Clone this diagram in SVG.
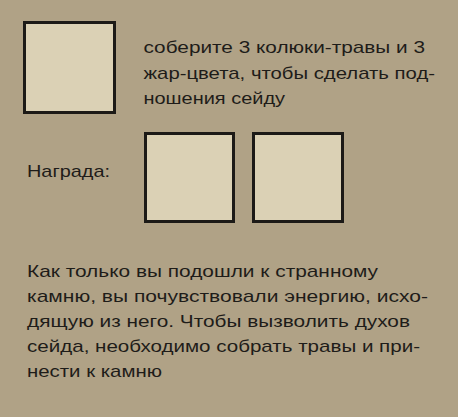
<svg xmlns="http://www.w3.org/2000/svg" width="458" height="417" viewBox="0 0 458 417">
<style>
.slot{fill:#dbd1b5;stroke:#1c1a17;stroke-width:3}
.t{font-family:"Liberation Sans",Arial,sans-serif;font-size:17px;fill:#1e1c19}
</style>
<rect x="0" y="0" width="458" height="417" fill="#b0a286"/>
<g id="quest-item">
<rect class="slot" x="24.5" y="22.5" width="90" height="90"/>
</g>
<g id="quest-text">
<text class="t" x="143.5" y="53" textLength="281.5" lengthAdjust="spacingAndGlyphs">соберите 3 колюки-травы и 3</text>
<text class="t" x="143.5" y="78.5" textLength="291.5" lengthAdjust="spacingAndGlyphs">жар-цвета, чтобы сделать под-</text>
<text class="t" x="143.5" y="104" textLength="141.5" lengthAdjust="spacingAndGlyphs">ношения сейду</text>
</g>
<g id="reward-label">
<text class="t" x="27" y="177" textLength="83" lengthAdjust="spacingAndGlyphs">Награда:</text>
</g>
<g id="reward-1">
<rect class="slot" x="145.5" y="133.5" width="88" height="88"/>
</g>
<g id="reward-2">
<rect class="slot" x="253.5" y="133.5" width="89" height="88"/>
</g>
<g id="description">
<text class="t" x="27" y="277" textLength="351" lengthAdjust="spacingAndGlyphs">Как только вы подошли к странному</text>
<text class="t" x="27" y="302" textLength="401" lengthAdjust="spacingAndGlyphs">камню, вы почувствовали энергию, исхо-</text>
<text class="t" x="27" y="327" textLength="383" lengthAdjust="spacingAndGlyphs">дящую из него. Чтобы вызволить духов</text>
<text class="t" x="27" y="352" textLength="393" lengthAdjust="spacingAndGlyphs">сейда, необходимо собрать травы и при-</text>
<text class="t" x="27" y="377" textLength="135" lengthAdjust="spacingAndGlyphs">нести к камню</text>
</g>
<g id="connectors"/>
</svg>
